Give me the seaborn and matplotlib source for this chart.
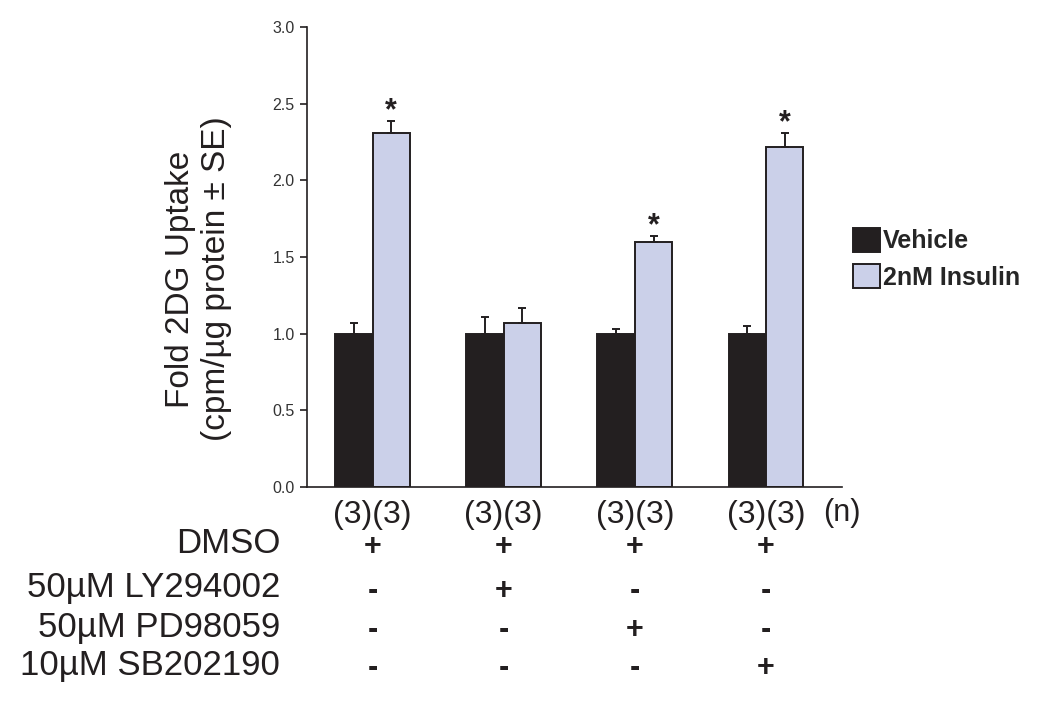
import numpy as np
import pandas as pd
import matplotlib
matplotlib.use("Agg")
import matplotlib.pyplot as plt
import matplotlib.transforms as mtransforms
import seaborn as sns

# Data
groups = ["G1", "G2", "G3", "G4"]
treatments = ["Vehicle", "2nM Insulin"]
vehicle_mean = [1.00, 1.00, 1.00, 1.00]
vehicle_se = [0.07, 0.11, 0.03, 0.05]
insulin_mean = [2.31, 1.07, 1.60, 2.22]
insulin_se = [0.08, 0.10, 0.04, 0.09]
insulin_sig = [True, False, True, True]
n_labels = ["(3)(3)", "(3)(3)", "(3)(3)", "(3)(3)"]
row_labels = ["DMSO", "50\u00b5M LY294002", "50\u00b5M PD98059", "10\u00b5M SB202190"]
row_signs = [
    ["+", "+", "+", "+"],
    ["-", "+", "-", "-"],
    ["-", "-", "+", "-"],
    ["-", "-", "-", "+"],
]

df = pd.DataFrame({
    "group": groups * 2,
    "treatment": [treatments[0]] * 4 + [treatments[1]] * 4,
    "value": vehicle_mean + insulin_mean,
    "se": vehicle_se + insulin_se,
})

sns.set_style("ticks")
plt.rcParams["font.family"] = ["Liberation Sans", "DejaVu Sans"]

fig = plt.figure(figsize=(10.5, 7.05), dpi=100)
ax = fig.add_axes([0.2924, 0.3092, 0.5095, 0.6525])

palette = {"Vehicle": "#231f20", "2nM Insulin": "#cbd0e9"}
sns.barplot(data=df, x="group", y="value", hue="treatment", palette=palette,
            width=0.57, gap=0, errorbar=None, edgecolor="#231f20",
            linewidth=1.4, saturation=1, ax=ax)

# one-sided error bars (upper) + significance stars
for cont, trt in zip(ax.containers, treatments):
    sub = df[df["treatment"] == trt]
    xs = [p.get_x() + p.get_width() / 2 for p in cont.patches]
    ax.errorbar(xs, sub["value"], yerr=[np.zeros(len(sub)), sub["se"]],
                fmt="none", ecolor="#231f20", elinewidth=1.4, capsize=3,
                capthick=1.4)
    if trt == "2nM Insulin":
        for x, v, e, s in zip(xs, sub["value"], sub["se"], insulin_sig):
            if s:
                ax.text(x, v + e + 0.06, "*", ha="center", va="center",
                        fontsize=22, fontweight="bold", color="#231f20")

ax.set_xlim(-0.5, 3.58)
ax.set_ylim(0, 3.0)
ax.set_yticks(np.arange(0, 3.01, 0.5))
ax.set_yticklabels([f"{t:.1f}" for t in np.arange(0, 3.01, 0.5)], fontsize=11.5,
                   color="#333333")
ax.tick_params(axis="y", direction="out", length=5, width=1.2, color="#231f20", pad=4)
ax.tick_params(axis="x", length=0, labelbottom=False)
ax.set_xlabel("")
ax.set_ylabel("Fold 2DG Uptake\n(cpm/\u00b5g protein \u00b1 SE)", fontsize=24,
              linespacing=1.2, color="#231f20")
ax.yaxis.set_label_coords(-0.14, 0.452)
sns.despine(ax=ax)
for sp in ["left", "bottom"]:
    ax.spines[sp].set_linewidth(1.2)
    ax.spines[sp].set_color("#231f20")

leg = ax.legend(loc="upper left", bbox_to_anchor=(0.8, 0.695),
                bbox_transform=fig.transFigure, frameon=False,
                prop={"size": 18, "weight": "bold"}, handlelength=1.1,
                handleheight=1.1, handletextpad=0.12, labelspacing=0.45,
                borderpad=0)
for h in leg.legend_handles:
    h.set_edgecolor("#231f20")

# treatment table below the axis
trans = mtransforms.blended_transform_factory(ax.transData, fig.transFigure)
for i, lab in enumerate(n_labels):
    fig.text(i, 0.2695, lab, transform=trans, ha="center", va="center",
             fontsize=23, color="#231f20")
fig.text(3.58, 0.2720, "(n)", transform=trans, ha="center", va="center",
         fontsize=22, color="#231f20")

row_y = [0.2284, 0.166, 0.1106, 0.0567]
for lab, signs, y in zip(row_labels, row_signs, row_y):
    fig.text(0.2667, y, lab, ha="right", va="center", fontsize=25, color="#231f20")
    for i, s in enumerate(signs):
        fig.text(i, y - 0.004, s, transform=trans, ha="center", va="center",
                 fontsize=22, fontweight="bold", color="#231f20")

fig.savefig("out.png", dpi=100)
